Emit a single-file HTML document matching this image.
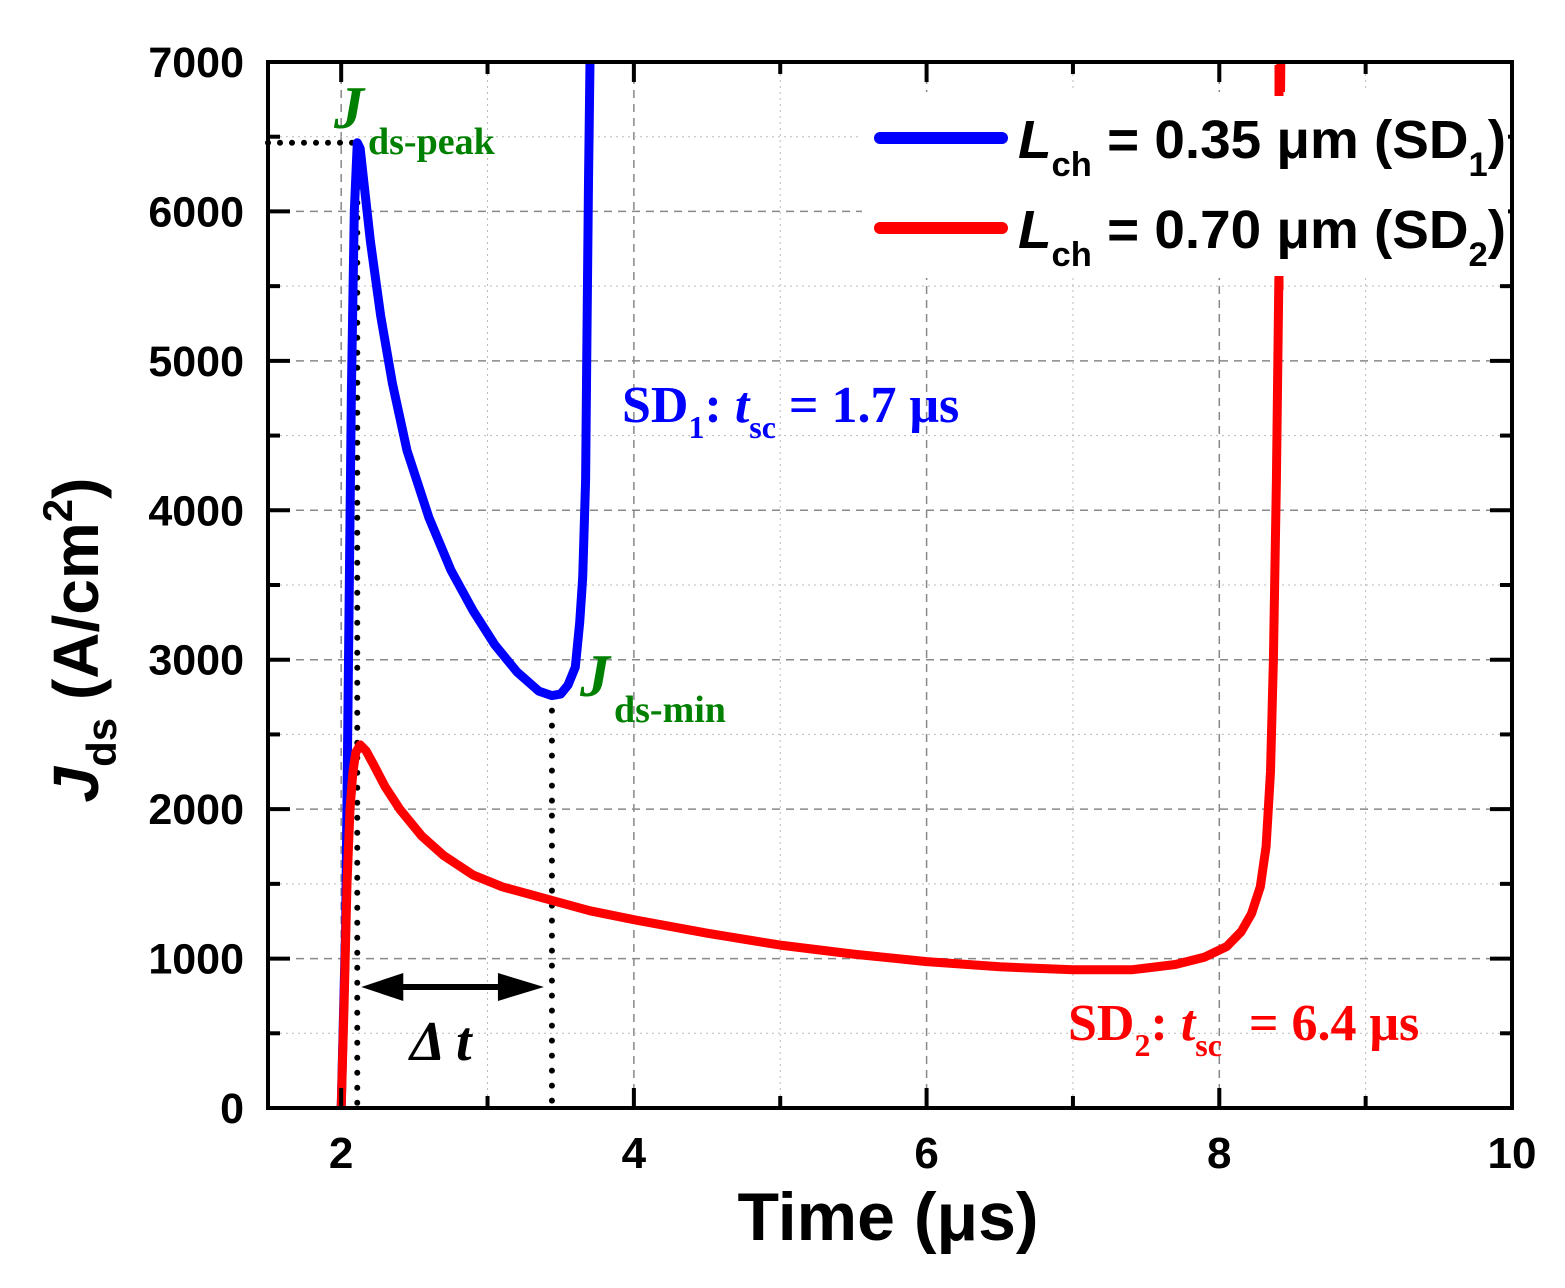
<!DOCTYPE html>
<html><head><meta charset="utf-8"><style>
html,body{margin:0;padding:0;background:#fff;}
svg text{font-family:"Liberation Sans",Arial,sans-serif;}
.serif{font-family:"Liberation Serif","Times New Roman",serif !important;}
</style></head><body>
<svg id="chart" width="1565" height="1283" xmlns="http://www.w3.org/2000/svg">
<rect width="1565" height="1283" fill="#fff"/>
<g id="grid"></g>
<g id="annot"></g>
<g id="series"></g>
<g id="axes"></g>
</svg>
<script>
const xTicks=[2,4,6,8,10];
const yTicks=[0,1000,2000,3000,4000,5000,6000,7000];
const xMinor=[3,5,7,9];
const yMinor=[500,1500,2500,3500,4500,5500,6500];
const sd1T=[2.0,2.03,2.05,2.07,2.09,2.11,2.13,2.16,2.2,2.27,2.35,2.45,2.6,2.75,2.9,3.05,3.2,3.35,3.44,3.5,3.55,3.6,3.63,3.65,3.67,3.68,3.69,3.70];
const sd1J=[0,1200,3000,4800,6000,6460,6420,6150,5800,5300,4850,4400,3950,3600,3330,3100,2920,2790,2760,2770,2830,2950,3250,3550,4200,5200,6200,7000];
const sd2T=[2.0,2.02,2.04,2.06,2.08,2.1,2.13,2.17,2.22,2.3,2.4,2.55,2.7,2.9,3.1,3.4,3.7,4.0,4.5,5.0,5.5,6.0,6.5,7.0,7.4,7.7,7.9,8.05,8.15,8.22,8.28,8.32,8.35,8.37,8.39,8.41,8.42];
const sd2J=[0,700,1500,2000,2250,2380,2430,2390,2300,2150,2000,1820,1690,1560,1480,1400,1320,1260,1170,1090,1030,980,945,925,925,960,1010,1080,1180,1300,1480,1750,2250,3000,4200,5800,7000];
const xMin=1.5,xMax=10,yMin=0,yMax=7000;
const L=268,R=1512,T=62,B=1108;
const X=v=>L+(v-xMin)/(xMax-xMin)*(R-L);
const Y=v=>B-(v-yMin)/(yMax-yMin)*(B-T);
const NS='http://www.w3.org/2000/svg';
function mk(tag,attrs,parent,text){const e=document.createElementNS(NS,tag);for(const k in attrs)e.setAttribute(k,attrs[k]);if(text!==undefined)e.textContent=text;document.getElementById(parent).appendChild(e);return e;}
xTicks.forEach(v=>{if(v>xMin&&v<xMax){const e=mk('line',{x1:X(v),x2:X(v),y1:T,y2:B,stroke:'#888','stroke-width':1.5,'stroke-dasharray':'8,6'},'grid');

}});
yTicks.forEach(v=>{if(v>yMin&&v<yMax){const e=mk('line',{x1:L,x2:R,y1:Y(v),y2:Y(v),stroke:'#888','stroke-width':1.5,'stroke-dasharray':'8,6'},'grid');

}});
xMinor.forEach(v=>{const e=mk('line',{x1:X(v),x2:X(v),y1:T,y2:B,stroke:'#bbb','stroke-width':1,'stroke-dasharray':'2,4'},'grid');

});
yMinor.forEach(v=>{const e=mk('line',{x1:L,x2:R,y1:Y(v),y2:Y(v),stroke:'#bbb','stroke-width':1,'stroke-dasharray':'2,4'},'grid');

});
const pkI=sd1J.indexOf(Math.max(...sd1J.slice(0,10)));
const pkT=sd1T[pkI],pkJ=sd1J[pkI];
let mnI=5;for(let i=5;i<sd1J.length-5;i++){if(sd1J[i]<sd1J[mnI])mnI=i;}
const mnT=sd1T[mnI],mnJ=sd1J[mnI];
let e=mk('line',{x1:L,x2:X(pkT),y1:Y(pkJ),y2:Y(pkJ),stroke:'#000','stroke-width':6,'stroke-dasharray':'0,12','stroke-linecap':'round'},'annot');


e=mk('line',{x1:X(pkT),x2:X(pkT),y1:Y(pkJ),y2:B,stroke:'#000','stroke-width':6,'stroke-dasharray':'0,15','stroke-linecap':'round'},'annot');


e=mk('line',{x1:X(mnT),x2:X(mnT),y1:Y(mnJ),y2:B,stroke:'#000','stroke-width':6,'stroke-dasharray':'0,15','stroke-linecap':'round'},'annot');


const ay=987,ax1=X(pkT)+4,ax2=X(mnT)-8;
e=mk('line',{x1:ax1+35,x2:ax2-35,y1:ay,y2:ay,stroke:'#000','stroke-width':6},'annot');


e=mk('polygon',{points:`${ax1},${ay} ${ax1+42},${ay-14} ${ax1+42},${ay+14}`,fill:'#000'},'annot');


e=mk('polygon',{points:`${ax2},${ay} ${ax2-46},${ay-14} ${ax2-46},${ay+14}`,fill:'#000'},'annot');


function path(ts,js){return ts.map((t,i)=>(i?'L':'M')+X(t).toFixed(1)+','+Y(js[i]).toFixed(1)).join(' ');}
e=mk('path',{d:path(sd1T,sd1J),fill:'none',stroke:'#0000ff','stroke-width':9,'stroke-linejoin':'round'},'series');


e=mk('path',{d:path(sd2T,sd2J),fill:'none',stroke:'#ff0000','stroke-width':9,'stroke-linejoin':'round'},'series');


e=mk('rect',{x:L,y:T,width:R-L,height:B-T,fill:'none',stroke:'#000','stroke-width':4},'axes');


xTicks.forEach(v=>{[[B,B-20],[T,T+20]].forEach(p=>{const t=mk('line',{x1:X(v),x2:X(v),y1:p[0],y2:p[1],stroke:'#000','stroke-width':4},'axes');

});
const lb=mk('text',{x:X(v),y:1168,'font-size':44,'font-weight':'bold','text-anchor':'middle'},'axes',String(v));

});
xMinor.forEach(v=>{[[B,B-12],[T,T+12]].forEach(p=>{const t=mk('line',{x1:X(v),x2:X(v),y1:p[0],y2:p[1],stroke:'#000','stroke-width':4},'axes');

});});
yTicks.forEach(v=>{[[L,L+22],[R,R-22]].forEach(p=>{const t=mk('line',{x1:p[0],x2:p[1],y1:Y(v),y2:Y(v),stroke:'#000','stroke-width':4},'axes');

});
const lb=mk('text',{x:244,y:Y(v)+15,'font-size':43,'font-weight':'bold','text-anchor':'end'},'axes',String(v));

});
yMinor.forEach(v=>{[[L,L+12],[R,R-12]].forEach(p=>{const t=mk('line',{x1:p[0],x2:p[1],y1:Y(v),y2:Y(v),stroke:'#000','stroke-width':4},'axes');

});});
</script>
<svg width="1565" height="1283" style="position:absolute;left:0;top:0" xmlns="http://www.w3.org/2000/svg">
<g>
<rect x="862" y="92" width="646" height="186" fill="#fff"/>
<line x1="880" y1="138" x2="1002" y2="138" stroke="#0000ff" stroke-width="12" stroke-linecap="round"/>
<line x1="880" y1="228" x2="1002" y2="228" stroke="#ff0000" stroke-width="12" stroke-linecap="round"/>
<text x="1018" y="158" font-size="54" font-weight="bold" textLength="488" lengthAdjust="spacingAndGlyphs"><tspan font-style="italic">L</tspan><tspan font-size="34" dy="18">ch</tspan><tspan dy="-18"> = 0.35 μm (SD</tspan><tspan font-size="34" dy="18">1</tspan><tspan dy="-18">)</tspan></text>
<text x="1018" y="248" font-size="54" font-weight="bold" textLength="488" lengthAdjust="spacingAndGlyphs"><tspan font-style="italic">L</tspan><tspan font-size="34" dy="18">ch</tspan><tspan dy="-18"> = 0.70 μm (SD</tspan><tspan font-size="34" dy="18">2</tspan><tspan dy="-18">)</tspan></text>
</g>
<line x1="1279" y1="65" x2="1279" y2="96" stroke="#ff0000" stroke-width="9"/>
<line x1="1279" y1="276" x2="1279" y2="290" stroke="#ff0000" stroke-width="9"/>
<text class="serif" x="334" y="128" font-size="60" font-weight="bold" font-style="italic" fill="#008000">J<tspan font-size="38" font-style="normal" dy="26" dx="4">ds-peak</tspan></text>
<text class="serif" x="580" y="696" font-size="60" font-weight="bold" font-style="italic" fill="#008000">J<tspan font-size="38" font-style="normal" dy="26" dx="4">ds-min</tspan></text>
<text class="serif" x="622" y="422" font-size="52" font-weight="bold" fill="#0000ff">SD<tspan font-size="32" dy="16">1</tspan><tspan dy="-16">: </tspan><tspan font-style="italic">t</tspan><tspan font-size="32" dy="16">sc</tspan><tspan dy="-16"> = 1.7 μs</tspan></text>
<text class="serif" x="1068" y="1040" font-size="52" font-weight="bold" fill="#ff0000">SD<tspan font-size="32" dy="16">2</tspan><tspan dy="-16">: </tspan><tspan font-style="italic">t</tspan><tspan font-size="32" dy="16">sc</tspan><tspan dy="-16" dx="14"> = 6.4 μs</tspan></text>
<text class="serif" x="410" y="1060" font-size="56" font-weight="bold" font-style="italic">Δ t</text>
<text x="888" y="1240" font-size="68" font-weight="bold" text-anchor="middle">Time (μs)</text>
<text transform="translate(98,640) rotate(-90)" font-size="64" font-weight="bold" text-anchor="middle"><tspan font-style="italic">J</tspan><tspan font-size="42" dy="18">ds</tspan><tspan dy="-18"> (A/cm</tspan><tspan font-size="42" dy="-26">2</tspan><tspan dy="26">)</tspan></text>
</svg>
</body></html>
